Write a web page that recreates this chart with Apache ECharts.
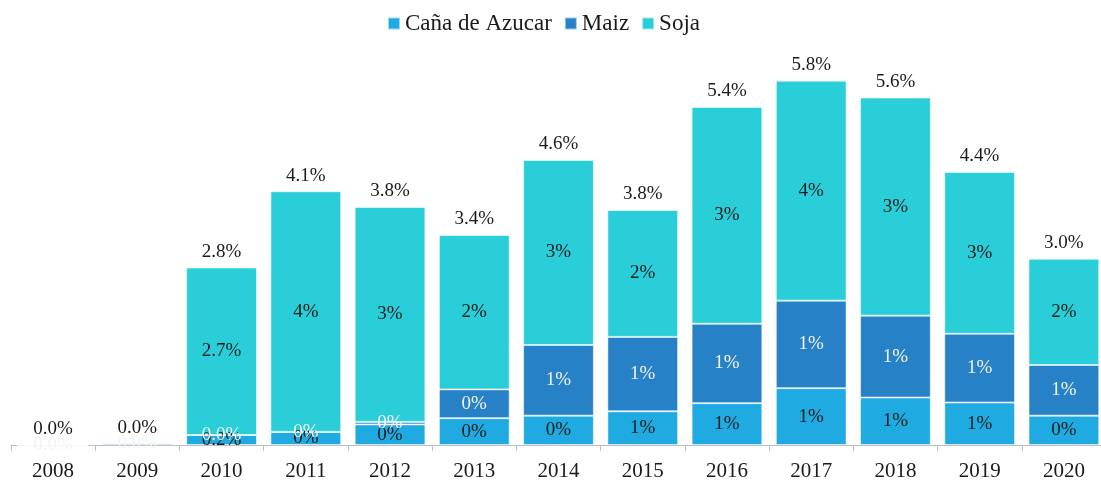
<!DOCTYPE html>
<html>
<head>
<meta charset="utf-8">
<script src="https://cdn.jsdelivr.net/npm/echarts@6/dist/echarts.min.js"></script>
<style>
  html, body { margin: 0; padding: 0; background: #fff; overflow: hidden; }
  /* a bit wider than the window: the last category runs past the right edge */
  #chart { width: 1106px; height: 482px; }
</style>
</head>
<body>
<div id="chart"></div>
<script>
// values in % of ...
const years = ['2008', '2009', '2010', '2011', '2012', '2013', '2014', '2015', '2016', '2017', '2018', '2019', '2020'];
const cana = [0, 0.03, 0.16, 0.21, 0.33, 0.43, 0.47, 0.54, 0.67, 0.91, 0.76, 0.68, 0.47];
const maiz = [0, 0, 0, 0, 0.04, 0.46, 1.13, 1.19, 1.27, 1.40, 1.31, 1.10, 0.81];
const soja = [0, 0, 2.68, 3.85, 3.44, 2.47, 2.96, 2.03, 3.47, 3.52, 3.49, 2.59, 1.70];
// first years are labelled with one decimal
const oneDecimalYears = ['2008', '2009', '2010'];

const totals = years.map((y, i) => cana[i] + maiz[i] + soja[i]);

const FONT = '"Liberation Serif", "DejaVu Serif", serif';

function pct(v, i) {
  return v.toFixed(oneDecimalYears.indexOf(years[i]) >= 0 ? 1 : 0) + '%';
}

let chart = echarts.init(document.getElementById('chart'));

let border = {borderColor: 'rgba(255,255,255,0.55)', borderWidth: 1};

chart.setOption({
  animation: false,
  textStyle: {fontFamily: FONT},
  legend: {
    top: 7,
    left: 382,
    data: ['Caña de Azucar', 'Maiz', 'Soja'],
    icon: 'rect',
    itemWidth: 12,
    itemHeight: 12,
    itemGap: 12,
    textStyle: {fontFamily: FONT, fontSize: 23, color: '#1a1a1a'}
  },
  grid: {left: 11, right: 0, top: 70, bottom: 37, containLabel: false},
  xAxis: {
    type: 'category',
    data: years,
    axisLine: {lineStyle: {color: '#BFBFBF', width: 1}},
    axisTick: {show: true, length: 6, lineStyle: {color: '#BFBFBF'}},
    axisLabel: {fontFamily: FONT, fontSize: 21, color: '#1a1a1a', margin: 16}
  },
  yAxis: {
    type: 'value',
    min: 0,
    max: 6,
    show: false,
    splitLine: {show: false}
  },
  series: [
    {
      name: 'Caña de Azucar',
      type: 'bar',
      stack: 'total',
      barCategoryGap: '16%',
      itemStyle: Object.assign({color: '#1FAAE1'}, border),
      label: {
        show: true,
        position: 'inside',
        fontFamily: FONT,
        fontSize: 19,
        color: '#1a1a1a',
        formatter: (p) => p.value < 0.1 ? '' : pct(p.value, p.dataIndex)
      },
      data: cana
    },
    {
      name: 'Maiz',
      type: 'bar',
      stack: 'total',
      itemStyle: Object.assign({color: '#2781C6'}, border),
      label: {
        show: true,
        position: 'inside',
        fontFamily: FONT,
        fontSize: 19,
        color: '#F4F4F4',
        formatter: (p) => pct(p.value, p.dataIndex)
      },
      data: maiz
    },
    {
      name: 'Soja',
      type: 'bar',
      stack: 'total',
      itemStyle: Object.assign({color: '#29CED8'}, border),
      label: {
        show: true,
        position: 'inside',
        fontFamily: FONT,
        fontSize: 19,
        color: '#1a1a1a',
        formatter: (p) => p.value === 0 ? '' : pct(p.value, p.dataIndex)
      },
      data: soja
    },
    {
      // zero-height bar on top of the stack, only carries the total label
      name: 'Total',
      type: 'bar',
      stack: 'total',
      itemStyle: {color: 'transparent'},
      label: {
        show: true,
        position: 'top',
        distance: 6,
        fontFamily: FONT,
        fontSize: 19,
        color: '#1a1a1a',
        formatter: (p) => totals[p.dataIndex].toFixed(1) + '%'
      },
      data: years.map(() => 0)
    }
  ]
});
</script>
</body>
</html>
